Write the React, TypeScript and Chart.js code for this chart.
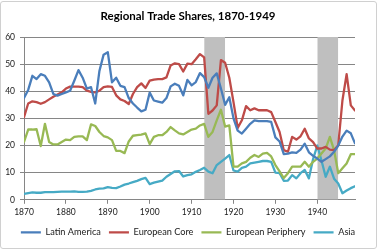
import React, { useEffect, useRef } from "react";
import { Chart, registerables } from "chart.js";

Chart.register(...registerables);

// Years on the horizontal axis
const firstYear = 1870;
const lastYear = 1949;
const years: number[] = [];
for (let y = firstYear; y <= lastYear; y++) years.push(y);

// Share of trade (%) by region, one value per year 1870-1949
const latinAmerica = [
  37.5, 40.5, 45.7, 44.5, 46.3, 45.7, 43.3, 39.0, 38.4, 39.0,
  39.6, 40.2, 43.9, 47.8, 45.0, 41.0, 41.5, 35.5, 47.5, 53.5,
  54.4, 43.3, 45.0, 42.0, 41.5, 37.5, 35.5, 34.0, 32.6, 33.2,
  39.5, 36.6, 36.2, 35.8, 37.5, 41.8, 42.8, 42.0, 38.5, 44.2,
  42.2, 43.4, 46.7, 45.2, 41.3, 45.0, 46.6, 41.0, 35.0, 37.8,
  30.0, 25.5, 24.4, 26.2, 28.0, 29.3, 29.0, 29.0, 29.0, 28.7,
  23.0, 21.5, 16.8, 17.0, 17.5, 17.3, 18.5, 20.7, 17.5, 16.2,
  15.2, 14.0, 15.0, 16.0, 17.7, 20.0, 23.3, 25.5, 24.5, 20.8,
];

const europeanCore = [
  30.5, 35.5, 36.3, 36.0, 35.4, 36.0, 37.0, 38.0, 38.8, 39.6,
  41.0, 41.7, 41.7, 41.7, 41.5, 40.2, 39.8, 39.6, 40.2, 41.5,
  41.8, 41.6, 38.5, 37.0, 36.4, 35.3, 39.0, 41.5, 42.9, 41.2,
  43.9, 44.3, 44.5, 44.5, 45.1, 49.5, 50.3, 50.0, 47.3, 50.2,
  50.0, 51.8, 53.7, 52.5, 31.7, 32.9, 34.8, 51.5, 50.5, 45.0,
  36.0, 26.5, 29.3, 34.5, 33.0, 33.7, 33.0, 33.0, 33.0, 32.3,
  28.7, 25.0, 18.3, 17.7, 23.2, 22.2, 23.4, 26.2, 22.6, 21.3,
  18.9, 18.9, 19.5, 18.5, 18.3, 20.1, 36.6, 46.3, 34.8, 32.9,
];

const europeanPeriphery = [
  21.3, 25.9, 25.9, 26.0, 19.8, 28.0, 21.3, 20.4, 20.4, 21.3,
  22.2, 22.0, 23.2, 23.4, 23.4, 22.0, 27.8, 27.2, 25.0, 23.5,
  23.0, 22.0, 18.0, 18.0, 17.2, 21.5, 23.6, 23.8, 24.0, 24.5,
  20.5, 23.2, 23.8, 23.8, 25.0, 26.8, 25.6, 24.5, 24.1, 25.0,
  25.9, 26.2, 27.4, 28.0, 23.2, 25.0, 29.3, 33.2, 27.0, 27.4,
  12.2, 12.2, 13.4, 14.0, 15.5, 16.5, 15.8, 17.0, 17.3, 16.0,
  12.8, 10.5, 8.0, 9.8, 12.2, 12.2, 12.2, 14.0, 12.2, 14.0,
  15.2, 17.1, 18.9, 23.2, 18.3, 9.8, 11.6, 13.4, 16.8, 16.8,
];

const asia = [
  2.2, 2.5, 2.7, 2.6, 2.6, 2.8, 2.8, 2.8, 2.9, 3.0,
  3.0, 3.0, 3.1, 2.9, 2.9, 3.0, 3.3, 3.8, 4.1, 4.2,
  4.7, 4.4, 4.3, 4.9, 5.6, 6.0, 6.5, 7.0, 7.6, 8.1,
  5.8, 6.3, 6.7, 7.1, 8.5, 9.5, 10.5, 10.6, 8.6, 9.1,
  9.4, 10.3, 11.0, 11.8, 10.4, 9.8, 12.8, 14.0, 15.2, 16.5,
  10.8, 10.4, 11.8, 12.2, 13.4, 13.7, 14.0, 14.3, 14.3, 14.0,
  10.0, 9.8, 7.0, 7.1, 9.1, 7.9, 9.8, 11.0, 7.9, 15.0,
  20.0, 14.5, 8.5, 12.2, 7.8, 6.0, 2.4, 3.4, 4.3, 5.0,
];

// Shaded war periods
const warStarts = [1913, 1940];
const warEnds = [1918, 1945];

const seriesNames = ["Latin America", "European Core", "European Periphery", "Asia"];
const seriesColors = ["#4A7EBB", "#BE4B48", "#98B954", "#46AAC5"];
const seriesValues = [latinAmerica, europeanCore, europeanPeriphery, asia];

const chartTitle = "Regional Trade Shares, 1870-1949";
const yMin = 0;
const yMax = 60;
const yStep = 10;
const xStep = 10;

const FONT = "Lato, 'Open Sans', 'Liberation Sans', sans-serif";
const TEXT = "#1a1a1a";
const GRID = "#868686";

export default function App() {
  const canvasRef = useRef<HTMLCanvasElement | null>(null);

  useEffect(() => {
    const canvas = canvasRef.current;
    if (!canvas) return;

    const lineSets = seriesValues.map((vals, i) => ({
      label: seriesNames[i],
      data: vals.map((v, k) => ({ x: years[k], y: v })),
      borderColor: seriesColors[i],
      backgroundColor: seriesColors[i],
      borderWidth: 2.3,
      borderJoinStyle: "round" as const,
      borderCapStyle: "round" as const,
      pointRadius: 0,
      tension: 0,
      fill: false,
      order: 0,
    }));

    const bandSets = warStarts.map((start, i) => ({
      label: "",
      data: [
        { x: start, y: yMax },
        { x: warEnds[i], y: yMax },
      ],
      borderColor: "rgba(0,0,0,0)",
      borderWidth: 0,
      backgroundColor: "#BFBFBF",
      pointRadius: 0,
      fill: "origin",
      order: 1,
    }));

    const chart = new Chart(canvas, {
      type: "line",
      data: { datasets: [...lineSets, ...bandSets] as any },
      options: {
        animation: false,
        responsive: false,
        events: [],
        layout: { padding: { left: 0, right: 4, top: 0, bottom: 3 } },
        plugins: {
          title: {
            display: true,
            text: chartTitle,
            color: "#000",
            font: { family: FONT, size: 11.5, weight: "bold" },
            padding: { top: 9.5, bottom: 13.7 },
          },
          legend: {
            position: "bottom",
            labels: {
              filter: (item: any) => item.datasetIndex < seriesNames.length,
              usePointStyle: true,
              pointStyle: "line",
              pointStyleWidth: 20,
              boxHeight: 9,
              font: { family: FONT, size: 9.2 },
              color: TEXT,
              padding: 8,
            },
          },
          tooltip: { enabled: false },
        },
        scales: {
          x: {
            type: "linear",
            min: firstYear,
            max: lastYear,
            ticks: {
              stepSize: xStep,
              includeBounds: false,
              autoSkip: false,
              maxRotation: 0,
              font: { family: FONT, size: 8.5 },
              color: TEXT,
              padding: 3,
              callback: (v: any) => String(v),
            },
            grid: { drawOnChartArea: false, drawTicks: true, tickLength: 4, color: GRID },
            border: { color: GRID },
            afterFit: (s: any) => {
              s.height = 20;
            },
          },
          y: {
            min: yMin,
            max: yMax,
            ticks: {
              stepSize: yStep,
              font: { family: FONT, size: 8.5 },
              color: TEXT,
              padding: 5,
            },
            grid: { color: GRID, tickLength: 4 },
            border: { color: GRID },
            afterFit: (s: any) => {
              s.width = 24;
            },
          },
          yRight: {
            position: "right",
            display: true,
            grid: { display: false },
            border: { display: false },
            ticks: { display: false },
            afterFit: (s: any) => {
              s.width = 21;
            },
          },
        },
      } as any,
    });

    return () => chart.destroy();
  }, []);

  return (
    <div style={{ position: "fixed", left: 0, top: 0, width: 380, height: 250, background: "#fff" }}>
      <canvas ref={canvasRef} width={380} height={250} style={{ display: "block" }} />
      <div
        style={{
          position: "absolute",
          left: 0,
          top: 1,
          width: 375,
          height: 246,
          border: "1px solid #d0d0d0",
          borderRadius: 3,
          pointerEvents: "none",
        }}
      />
    </div>
  );
}
